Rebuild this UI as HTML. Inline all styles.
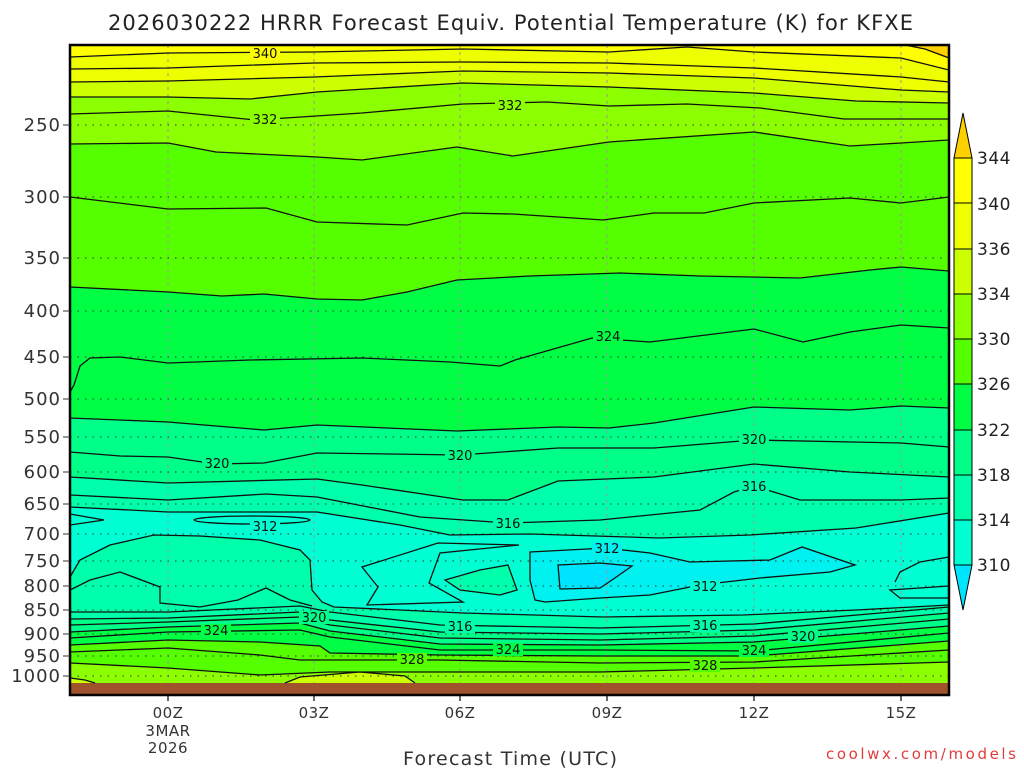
<!DOCTYPE html>
<html><head><meta charset="utf-8"><style>
html,body{margin:0;padding:0;background:#fff;}
svg{display:block;font-family:"DejaVu Sans","Liberation Sans",sans-serif;}
</style></head><body>
<svg width="1024" height="768" viewBox="0 0 1024 768" xmlns="http://www.w3.org/2000/svg">
<defs><clipPath id="c"><rect x="70" y="45" width="879" height="650"/></clipPath></defs>
<text x="108" y="30" font-size="21" fill="#222" textLength="805" lengthAdjust="spacing">2026030222 HRRR Forecast Equiv. Potential Temperature (K) for KFXE</text>
<g clip-path="url(#c)">
<rect x="70" y="45" width="879" height="650" fill="#ffff00"/>
<polygon fill="#ffd000" points="905,44 949,44 949,58 925,49"/>
<polygon fill="#eeff00" points="70,57 168,53 314,52 463,49 609,52 687,47 754,52 901,58 949,70 949,700 70,700"/>
<polygon fill="#ccff00" points="70,82 168,81 314,77 463,71 609,73 754,78 901,90 949,92 949,700 70,700"/>
<polygon fill="#8cff00" points="70,97 168,97 250,99 317,92 463,83 609,87 754,93 856,101 949,103 949,700 70,700"/>
<polygon fill="#55ff00" points="70,144 168,143 216,152 317,157 362,160 457,147 513,156 609,142 754,132 850,146 901,143 949,140 949,700 70,700"/>
<polygon fill="#00ff44" points="70,287 168,292 222,296 264,294 317,299 362,300 407,292 457,280 530,276 620,273 700,276 800,278 870,270 901,267 949,271 949,700 70,700"/>
<polygon fill="#00ff88" points="70,418 168,422 264,430 317,425 457,431 558,427 609,428 654,423 754,407 850,410 901,406 949,408 949,700 70,700"/>
<polygon fill="#00ffaa" points="70,477 168,483 317,479 362,485 463,500 508,500 558,481 654,477 754,464 850,472 949,477 949,700 70,700"/>
<polygon fill="#00ffd2" points="70,507 168,512 230,512 317,512 400,525 450,535 530,534 659,538 750,535 856,528 949,513 949,700 70,700"/>
<polygon fill="#00f2f0" points="530,552 606,548 650,553 690,562 770,560 802,547 855,565 830,572 760,578 700,585 650,595 600,598 545,602 535,600 530,580"/>
<polygon fill="#00e5ff" points="558,565 600,563 632,566 612,580 600,588 560,589"/>
<polygon fill="#00ffaa" points="445,580 480,570 508,565 517,590 500,595 460,590"/>
<polygon fill="#00ffaa" points="70,577 80,560 110,545 154,535 200,536 260,540 300,550 310,560 312,590 322,602 334,607 400,610 463,613 603,617 743,615 856,610 949,605 949,700 70,700"/>
<polygon fill="#00ff88" points="70,619 168,618 300,612 330,620 440,632 600,634 754,630 949,613 949,700 70,700"/>
<polygon fill="#00ff44" points="70,632 168,627 300,623 330,631 440,644 600,645 754,642 949,626 949,700 70,700"/>
<polygon fill="#55ff00" points="70,645 168,640 260,642 320,646 330,653 440,655 600,656 754,656 949,641 949,700 70,700"/>
<polygon fill="#8cff00" points="70,663 168,668 260,675 330,672 600,672 754,668 949,662 949,700 70,700"/>
<polygon fill="#ccff00" points="70,678 85,680 95,683 70,683"/>
<polygon fill="#ccff00" points="285,683 300,677 360,672 405,676 415,683"/>
<rect x="70" y="683" width="879" height="12" fill="#a0522d"/>
<g stroke="#999" stroke-width="1" stroke-dasharray="3,4">
<line x1="168" y1="45" x2="168" y2="683"/><line x1="314" y1="45" x2="314" y2="683"/><line x1="460" y1="45" x2="460" y2="683"/><line x1="607" y1="45" x2="607" y2="683"/><line x1="754" y1="45" x2="754" y2="683"/><line x1="901" y1="45" x2="901" y2="683"/>
</g>
<g stroke="#333" stroke-width="1" stroke-dasharray="1.5,6">
<line x1="70" y1="125" x2="949" y2="125"/><line x1="70" y1="197" x2="949" y2="197"/><line x1="70" y1="258" x2="949" y2="258"/><line x1="70" y1="311" x2="949" y2="311"/><line x1="70" y1="357" x2="949" y2="357"/><line x1="70" y1="399" x2="949" y2="399"/><line x1="70" y1="437" x2="949" y2="437"/><line x1="70" y1="472" x2="949" y2="472"/><line x1="70" y1="504" x2="949" y2="504"/><line x1="70" y1="534" x2="949" y2="534"/><line x1="70" y1="561" x2="949" y2="561"/><line x1="70" y1="586" x2="949" y2="586"/><line x1="70" y1="610" x2="949" y2="610"/><line x1="70" y1="634" x2="949" y2="634"/><line x1="70" y1="656" x2="949" y2="656"/><line x1="70" y1="676" x2="949" y2="676"/>
</g>
<g fill="none" stroke="#111" stroke-width="1.3">
<polyline points="905,45 925,49 949,58"/>
<polyline points="70,57 168,53 314,52 463,49 609,52 687,47 754,52 901,58 949,70"/>
<polyline points="70,69 168,68 314,63 463,62 609,63 754,68 901,77 949,82"/>
<polyline points="70,82 168,81 314,77 463,71 609,73 754,78 901,90 949,92"/>
<polyline points="70,97 168,97 250,99 317,92 463,83 609,87 754,93 856,101 949,103"/>
<polyline points="70,114 168,111 255,120 362,113 463,104 547,102 609,106 687,104 760,108 844,119 949,119"/>
<polyline points="70,144 168,143 216,152 317,157 362,160 457,147 513,156 609,142 754,132 850,146 901,143 949,140"/>
<polyline points="70,197 168,209 266,208 317,222 407,225 463,213 513,214 603,220 654,213 704,213 754,203 850,198 901,203 949,197"/>
<polyline points="70,287 168,292 222,296 264,294 317,299 362,300 407,292 457,280 530,276 620,273 700,276 800,278 870,270 901,267 949,271"/>
<polyline points="70,392 74,385 80,366 90,358 120,357 168,363 250,360 362,358 450,362 500,366 515,360 592,338 650,342 754,329 803,342 850,332 901,325 949,328"/>
<polyline points="70,418 168,422 264,430 317,425 457,431 558,427 609,428 654,423 754,407 850,410 901,406 949,408"/>
<polyline points="70,452 120,456 168,457 216,464 264,463 317,453 460,455 558,448 654,448 754,440 901,443 949,447"/>
<polyline points="70,477 168,483 317,479 362,485 463,500 508,500 558,481 654,477 754,464 850,472 949,477"/>
<polyline points="70,495 168,500 266,494 317,497 420,517 508,523 600,520 700,510 734,492 754,486 800,500 901,500 949,498"/>
<polyline points="70,507 168,512 230,512 317,512 400,525 450,535 530,534 659,538 750,535 856,528 949,513"/>
<polyline points="70,514 104,520 70,525"/>
<ellipse cx="252" cy="520" rx="58" ry="4"/>
<polygon points="530,552 606,548 650,553 690,562 770,560 802,547 855,565 830,572 760,578 700,585 650,595 600,598 545,602 535,600 530,580"/>
<polygon points="558,565 600,563 632,566 612,580 600,588 560,589"/>
<polygon points="438,543 362,567 378,587 367,605 463,602 429,583 440,553 519,545"/>
<polygon points="445,580 480,570 508,565 517,590 500,595 460,590"/>
<polyline points="949,557 920,562 900,572 895,582"/>
<polyline points="949,586 890,590 900,598 949,598"/>
<polyline points="70,577 80,560 110,545 154,535 200,536 260,540 300,550 310,560 312,590 322,602 334,607 400,610 463,613 603,617 743,615 856,610 949,605"/>
<polyline points="70,590 90,580 120,572 160,587 160,603 200,607 238,600 266,588 290,600 312,606"/>
<polyline points="70,612 168,612 300,606 330,612 440,625 600,628 754,624 949,607"/>
<polyline points="70,619 168,618 300,612 330,620 440,632 600,634 754,630 949,613"/>
<polyline points="70,625 168,622 300,617 330,625 440,638 600,640 754,636 949,619"/>
<polyline points="70,632 168,627 300,623 330,631 440,644 600,645 754,642 949,626"/>
<polyline points="70,638 168,632 300,630 330,637 440,650 600,650 754,651 949,633"/>
<polyline points="70,645 168,640 260,642 320,646 330,653 440,655 600,656 754,656 949,641"/>
<polyline points="70,652 168,648 260,655 300,660 440,660 600,663 754,662 949,650"/>
<polyline points="70,663 168,668 260,675 330,672 600,672 754,668 949,662"/>
<polyline points="70,678 85,680 95,683"/>
<polyline points="285,683 300,677 360,672 405,676 415,683"/>
</g>
<g font-size="13" text-anchor="middle" fill="#111">
<rect x="250" y="47" width="30" height="13" fill="#ffff00"/><text x="265" y="58">340</text>
<rect x="250" y="113" width="30" height="13" fill="#8cff00"/><text x="265" y="124">332</text>
<rect x="495" y="99" width="30" height="13" fill="#8cff00"/><text x="510" y="110">332</text>
<rect x="593" y="330" width="30" height="13" fill="#00ff44"/><text x="608" y="341">324</text>
<rect x="202" y="457" width="30" height="13" fill="#00ff88"/><text x="217" y="468">320</text>
<rect x="445" y="449" width="30" height="13" fill="#00ff88"/><text x="460" y="460">320</text>
<rect x="739" y="433" width="30" height="13" fill="#00ff88"/><text x="754" y="444">320</text>
<rect x="739" y="480" width="30" height="13" fill="#00ffaa"/><text x="754" y="491">316</text>
<rect x="250" y="520" width="30" height="13" fill="#00ffd2"/><text x="265" y="531">312</text>
<rect x="493" y="517" width="30" height="13" fill="#00ffaa"/><text x="508" y="528">316</text>
<rect x="592" y="542" width="30" height="13" fill="#00f2f0"/><text x="607" y="553">312</text>
<rect x="690" y="580" width="30" height="13" fill="#00ffd2"/><text x="705" y="591">312</text>
<rect x="299" y="611" width="30" height="13" fill="#00ff88"/><text x="314" y="622">320</text>
<rect x="201" y="624" width="30" height="13" fill="#00ff44"/><text x="216" y="635">324</text>
<rect x="445" y="620" width="30" height="13" fill="#00ffaa"/><text x="460" y="631">316</text>
<rect x="690" y="619" width="30" height="13" fill="#00ffaa"/><text x="705" y="630">316</text>
<rect x="788" y="630" width="30" height="13" fill="#00ff88"/><text x="803" y="641">320</text>
<rect x="493" y="643" width="30" height="13" fill="#00ff44"/><text x="508" y="654">324</text>
<rect x="739" y="644" width="30" height="13" fill="#00ff44"/><text x="754" y="655">324</text>
<rect x="397" y="653" width="30" height="13" fill="#55ff00"/><text x="412" y="664">328</text>
<rect x="690" y="659" width="30" height="13" fill="#55ff00"/><text x="705" y="670">328</text>
</g>
</g>
<rect x="70" y="45" width="879" height="650" fill="none" stroke="#000" stroke-width="2.5"/>
<g stroke="#000" stroke-width="1.2">
<line x1="168" y1="695" x2="168" y2="701"/><line x1="314" y1="695" x2="314" y2="701"/><line x1="460" y1="695" x2="460" y2="701"/><line x1="607" y1="695" x2="607" y2="701"/><line x1="754" y1="695" x2="754" y2="701"/><line x1="901" y1="695" x2="901" y2="701"/>
</g>
<g stroke="#333" stroke-width="1">
<line x1="63" y1="125" x2="70" y2="125"/><line x1="63" y1="197" x2="70" y2="197"/><line x1="63" y1="258" x2="70" y2="258"/><line x1="63" y1="311" x2="70" y2="311"/><line x1="63" y1="357" x2="70" y2="357"/><line x1="63" y1="399" x2="70" y2="399"/><line x1="63" y1="437" x2="70" y2="437"/><line x1="63" y1="472" x2="70" y2="472"/><line x1="63" y1="504" x2="70" y2="504"/><line x1="63" y1="534" x2="70" y2="534"/><line x1="63" y1="561" x2="70" y2="561"/><line x1="63" y1="586" x2="70" y2="586"/><line x1="63" y1="610" x2="70" y2="610"/><line x1="63" y1="634" x2="70" y2="634"/><line x1="63" y1="656" x2="70" y2="656"/><line x1="63" y1="676" x2="70" y2="676"/>
</g>
<g font-size="18" text-anchor="end" fill="#333" letter-spacing="1">
<text x="61" y="131">250</text><text x="61" y="203">300</text><text x="61" y="264">350</text><text x="61" y="317">400</text><text x="61" y="363">450</text><text x="61" y="405">500</text><text x="61" y="443">550</text><text x="61" y="478">600</text><text x="61" y="510">650</text><text x="61" y="540">700</text><text x="61" y="567">750</text><text x="61" y="592">800</text><text x="61" y="616">850</text><text x="61" y="640">900</text><text x="61" y="662">950</text><text x="61" y="682">1000</text>
</g>
<g font-size="15" text-anchor="middle" fill="#333" letter-spacing="0.5">
<text x="168" y="718">00Z</text><text x="168" y="736">3MAR</text><text x="168" y="753">2026</text>
<text x="314" y="718">03Z</text><text x="460" y="718">06Z</text><text x="607" y="718">09Z</text><text x="754" y="718">12Z</text><text x="901" y="718">15Z</text>
</g>
<text x="403" y="765" font-size="19" fill="#333" textLength="214" lengthAdjust="spacing">Forecast Time (UTC)</text>
<text x="826" y="759" font-size="15" fill="#e03c3c" textLength="190" lengthAdjust="spacing">coolwx.com/models</text>
<g stroke="#000" stroke-width="1">
<polygon points="963,113 954,158 972,158" fill="#ffd000"/>
<rect x="954" y="158" width="18" height="45" fill="#ffff00"/>
<rect x="954" y="203" width="18" height="46" fill="#eeff00"/>
<rect x="954" y="249" width="18" height="45" fill="#ccff00"/>
<rect x="954" y="294" width="18" height="45" fill="#8cff00"/>
<rect x="954" y="339" width="18" height="45" fill="#55ff00"/>
<rect x="954" y="384" width="18" height="46" fill="#00ff44"/>
<rect x="954" y="430" width="18" height="45" fill="#00ff88"/>
<rect x="954" y="475" width="18" height="45" fill="#00ffaa"/>
<rect x="954" y="520" width="18" height="45" fill="#00ffd2"/>
<polygon points="954,565 972,565 963,610" fill="#00e5ff"/>
</g>
<g font-size="17" fill="#222" letter-spacing="0.5">
<text x="977" y="164">344</text><text x="977" y="210">340</text><text x="977" y="255">336</text><text x="977" y="300">334</text><text x="977" y="345">330</text><text x="977" y="390">326</text><text x="977" y="436">322</text><text x="977" y="481">318</text><text x="977" y="526">314</text><text x="977" y="571">310</text>
</g>
</svg>
</body></html>
